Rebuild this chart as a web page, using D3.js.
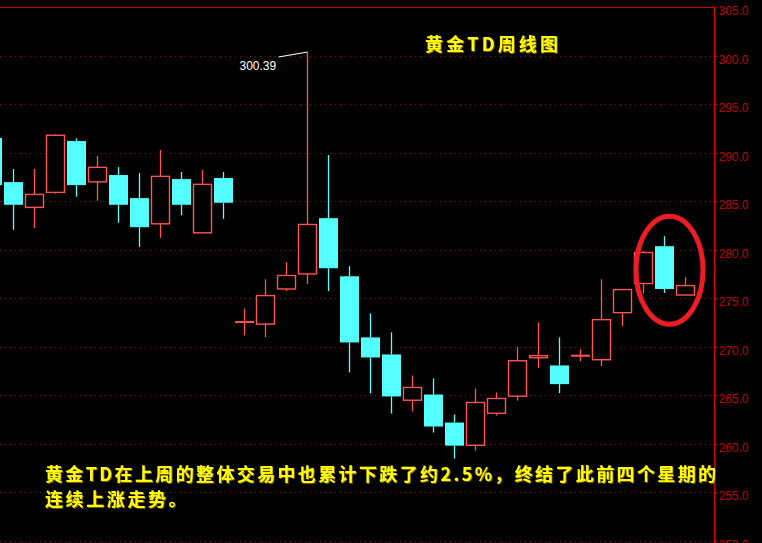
<!DOCTYPE html>
<html>
<head>
<meta charset="utf-8">
<script src="https://cdn.jsdelivr.net/npm/d3@7/dist/d3.min.js"></script>
<style>
  html, body { margin: 0; padding: 0; background: #000; }
  svg { display: block; }
</style>
</head>
<body>
<svg id="chart" width="762" height="543"></svg>
<script>
// ---- data ----
const weeks = ["W01","W02","W03","W04","W05","W06","W07","W08","W09","W10","W11","W12",
               "W13","W14","W15","W16","W17","W18","W19","W20","W21","W22","W23","W24",
               "W25","W26","W27","W28","W29","W30","W31","W32","W33","W34"];
const opens  = [291.53,286.98,284.37,285.92,291.22,287.01,287.71,285.33,282.68,287.29,281.75,287.40,
                272.55,272.34,275.96,277.51,283.26,277.27,270.97,269.21,264.49,265.08,262.19,259.85,
                263.15,264.91,268.87,268.08,269.08,268.67,273.52,276.52,280.37,275.34];
const highs  = [292.40,288.33,288.33,291.91,291.50,289.67,288.53,287.91,290.29,288.02,288.22,288.02,
                273.94,276.96,278.72,300.39,289.77,278.31,273.45,271.49,267.05,266.74,263.02,265.70,
                265.29,270.01,272.52,270.97,269.73,276.96,275.90,279.90,281.40,277.17];
const lows   = [285.50,282.06,282.26,285.78,285.47,285.05,282.78,280.30,281.23,283.57,281.75,283.19,
                271.18,271.00,275.75,276.48,275.75,267.36,265.19,263.12,263.33,261.16,258.47,259.30,
                262.91,264.46,267.80,265.22,268.52,268.00,272.11,275.49,275.55,275.34];
const closes = [286.67,284.64,285.71,291.81,286.67,288.50,284.64,282.33,287.57,284.64,286.75,284.85,
                272.55,275.28,277.35,282.61,278.10,270.45,268.90,264.88,265.81,261.78,259.81,264.26,
                264.67,268.56,269.08,266.15,269.08,272.80,275.90,279.72,275.96,276.31];
const yTicks = [250,255,260,265,270,275,280,285,290,295,300,305];
const peakLabel = "300.39";
const peakIndex = 15;
const titleText = "黄金TD周线图";
const noteLine1 = "黄金TD在上周的整体交易中也累计下跌了约2.5%，终结了此前四个星期的";
const noteLine2 = "连续上涨走势。";

const candles = weeks.map((w, i) => ({week: w, o: opens[i], h: highs[i], l: lows[i], c: closes[i]}));

// ---- layout ----
const W = 762, H = 543;
const axisX = 714.5;
const svg = d3.select("#chart");
svg.append("rect").attr("width", W).attr("height", H).attr("fill", "#000");

const defs = svg.append("defs");
const f = defs.append("filter").attr("id", "shadow").attr("x", "-5%").attr("y", "-20%")
  .attr("width", "110%").attr("height", "140%");
f.append("feDropShadow").attr("dx", 1).attr("dy", 1).attr("stdDeviation", 0)
  .attr("flood-color", "#7a5200").attr("flood-opacity", 1);

const x = d3.scaleBand().domain(weeks).range([-19, -19 + weeks.length * 21]).padding(0);
const cx = w => x(w) + x.bandwidth() / 2;
const y = d3.scaleLinear().domain([250, 305]).range([540.8, 7.3]);

const RED = "#ff5454", CYAN = "#54ffff";

// grid lines (dotted)
svg.append("g").selectAll("line").data(yTicks.filter(t => t < 305)).join("line")
  .attr("x1", 0).attr("x2", axisX)
  .attr("y1", d => Math.round(y(d)) + 0.5).attr("y2", d => Math.round(y(d)) + 0.5)
  .attr("stroke", "#a00000").attr("stroke-width", 1).attr("stroke-dasharray", "1,4");

// top border
svg.append("line").attr("x1", 0).attr("x2", axisX)
  .attr("y1", Math.round(y(305)) + 0.5).attr("y2", Math.round(y(305)) + 0.5)
  .attr("stroke", "#c80000").attr("stroke-width", 1.2);

// right axis
const axis = d3.axisRight(y).tickValues(yTicks).tickFormat(d3.format(".1f")).tickSize(3).tickPadding(1);
const gAxis = svg.append("g").attr("transform", `translate(${axisX},0)`).call(axis);
gAxis.select(".domain").remove();
gAxis.selectAll(".tick line").attr("stroke", "#d00000");
gAxis.selectAll(".tick text")
  .attr("fill", "#c00000").attr("font-family", "Liberation Sans, Arial, sans-serif")
  .attr("font-size", 12).attr("dy", "0.62em");
svg.append("line").attr("x1", axisX).attr("x2", axisX).attr("y1", y(305)).attr("y2", H)
  .attr("stroke", "#e00000").attr("stroke-width", 1.3);

// candles
const gC = svg.append("g");
candles.forEach(d => {
  const up = d.c >= d.o;
  const col = up ? RED : CYAN;
  const c = Math.round(cx(d.week)) + 0.5;
  const top = y(Math.max(d.o, d.c)), bot = y(Math.min(d.o, d.c));
  gC.append("line").attr("x1", c).attr("x2", c).attr("y1", y(d.h)).attr("y2", top)
    .attr("stroke", col).attr("stroke-width", 1.3);
  gC.append("line").attr("x1", c).attr("x2", c).attr("y1", bot).attr("y2", y(d.l))
    .attr("stroke", col).attr("stroke-width", 1.3);
  if (up && Math.abs(d.c - d.o) < 0.05) {
    gC.append("line").attr("x1", c - 9.5).attr("x2", c + 9.5).attr("y1", top).attr("y2", top)
      .attr("stroke", col).attr("stroke-width", 2);
  } else if (up) {
    gC.append("rect").attr("x", c - 9).attr("width", 18)
      .attr("y", top).attr("height", Math.max(1, bot - top))
      .attr("fill", "#000").attr("stroke", col).attr("stroke-width", 1.4);
  } else {
    gC.append("rect").attr("x", c - 9.5).attr("width", 19)
      .attr("y", top).attr("height", Math.max(1, bot - top))
      .attr("fill", col);
  }
});

// peak label
const px = Math.round(cx(weeks[peakIndex])) + 0.5, py = y(highs[peakIndex]);
svg.append("line").attr("x1", px - 29).attr("y1", py + 5).attr("x2", px).attr("y2", py)
  .attr("stroke", "#ffffff").attr("stroke-width", 1.2);
svg.append("text").attr("x", px - 68).attr("y", py + 18)
  .attr("fill", "#ffffff").attr("font-family", "Liberation Sans, Arial, sans-serif")
  .attr("font-size", 12).text(peakLabel);

// ellipse highlight
const ex = (cx(weeks[31]) + cx(weeks[33])) / 2 + 6;
svg.append("ellipse").attr("cx", ex).attr("cy", y(277.9)).attr("rx", 33.5).attr("ry", 54)
  .attr("fill", "none").attr("stroke", "#ee1c25").attr("stroke-width", 5);

// texts
function yellowText(str, tx, ty, size, opts) {
  const t = svg.append("text").attr("x", tx).attr("y", ty)
    .attr("fill", "#ffff00").attr("font-family", "Noto Sans CJK SC, sans-serif")
    .attr("font-weight", "bold").attr("font-size", size)
    .attr("filter", "url(#shadow)").text(str);
  if (opts.len) t.attr("textLength", opts.len).attr("lengthAdjust", "spacing");
  if (opts.ls) t.attr("letter-spacing", opts.ls);
}
yellowText(titleText, 425, 51, 18, {len: 133});
yellowText(noteLine1, 45, 481, 18, {len: 671});
yellowText(noteLine2, 45, 506, 18, {ls: 2.6});
</script>
</body>
</html>
